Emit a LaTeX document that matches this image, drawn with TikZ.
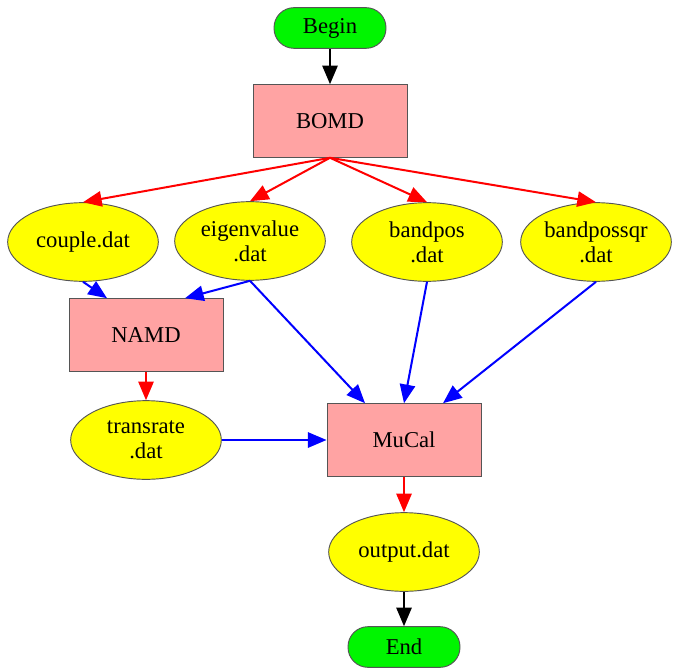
\documentclass[tikz,border=0pt]{standalone}
\usepackage{fontspec}
\setmainfont{Liberation Serif}
\usetikzlibrary{shapes.geometric,arrows.meta,calc}

\definecolor{termgreen}{RGB}{0,245,0}
\definecolor{procpink}{RGB}{255,163,163}
\definecolor{datyellow}{RGB}{255,255,0}
\definecolor{bordgray}{RGB}{85,85,85}

\tikzset{
  term/.style={draw=bordgray,line width=0.7pt,fill=termgreen,rounded corners=15pt,
    minimum width=84pt,minimum height=30.5pt,inner sep=0pt,font=\fontsize{17}{19}\selectfont},
  proc/.style={draw=bordgray,line width=0.7pt,fill=procpink,rectangle,
    minimum width=115.5pt,minimum height=54.5pt,inner sep=0pt,font=\fontsize{17}{19}\selectfont},
  dat/.style={draw=bordgray,line width=0.7pt,fill=datyellow,ellipse,align=center,
    minimum width=113pt,minimum height=59pt,inner sep=0pt,font=\fontsize{17}{19}\selectfont},
  flow/.style={line width=1.5pt,-{Triangle[length=14pt,width=11.5pt]}},
}

\begin{document}
\begin{tikzpicture}[x=0.75pt,y=0.75pt,yscale=-1,xscale=1]
\useasboundingbox (0,0) rectangle (673,670);
% nodes
\draw (330,28) node [term] (begin) {Begin};
\draw (330,121) node [proc] (bomd) {BOMD};
\draw (83,242) node [dat] (couple) {couple.dat};
\draw (250,241) node [dat] (eigen) {eigenvalue\\.dat};
\draw (427,242) node [dat] (bandpos) {bandpos\\.dat};
\draw (596,242) node [dat] (bandpossqr) {bandpossqr\\.dat};
\draw (146,335) node [proc] (namd) {NAMD};
\draw (146,440) node [dat] (transrate) {transrate\\.dat};
\draw (404,440) node [proc] (mucal) {MuCal};
\draw (404,552) node [dat] (output) {output.dat};
\draw (404,647) node [term] (end) {End};
% edges
\draw[flow,black] (begin) -- (bomd);
\draw[flow,red] (bomd.south) -- (couple.north);
\draw[flow,red] (bomd.south) -- (eigen.north);
\draw[flow,red] (bomd.south) -- (bandpos.north);
\draw[flow,red] (bomd.south) -- (bandpossqr.north);
\draw[flow,blue] (couple.south) -- ($(namd.north)+(-39,0)$);
\draw[flow,blue] (eigen.south) -- ($(namd.north)+(39,0)$);
\draw[flow,blue] (eigen.south) -- ($(mucal.north)+(-39,0)$);
\draw[flow,blue] (bandpos.south) -- (mucal.north);
\draw[flow,blue] (bandpossqr.south) -- ($(mucal.north)+(39,0)$);
\draw[flow,red] (namd) -- (transrate);
\draw[flow,blue] (transrate) -- (mucal);
\draw[flow,red] (mucal) -- (output);
\draw[flow,black] (output) -- (end);
\end{tikzpicture}
\end{document}
